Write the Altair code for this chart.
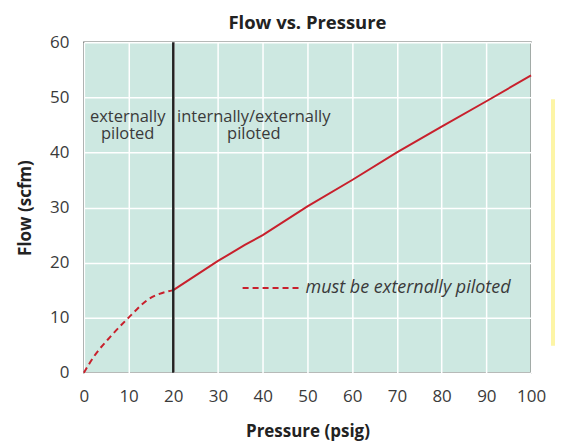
import altair as alt
import pandas as pd

# Data
dashed_x = [0, 2.3, 6, 10, 14.2, 20]
dashed_y = [0, 3, 6.6, 10, 13.2, 15]
solid_x = [20, 30, 36, 40, 50, 60, 70, 80, 90, 100]
solid_y = [15, 20.3, 23.2, 25, 30.2, 35, 40, 44.7, 49.3, 54]
divider_x = [20]
x_ticks = [0, 10, 20, 30, 40, 50, 60, 70, 80, 90, 100]
y_ticks = [0, 10, 20, 30, 40, 50, 60]
region_text = ["externally", "piloted", "internally/externally", "piloted"]
region_x = [9.8, 9.8, 38, 38]
region_y = [46.5, 43.3, 46.5, 43.3]
legend_seg_x = [35.5, 48.9]
legend_seg_y = [15.4, 15.4]
legend_text = ["must be externally piloted"]

FONT = "Open Sans"
RED = "#c8202c"
TXT = "#3a3a3a"

dashed_df = pd.DataFrame({"x": dashed_x, "y": dashed_y})
solid_df = pd.DataFrame({"x": solid_x, "y": solid_y})
div_df = pd.DataFrame({"x": divider_x})
reg_df = pd.DataFrame({"x": region_x, "y": region_y, "t": region_text})
seg_df = pd.DataFrame({"x": legend_seg_x, "y": legend_seg_y})
lt_df = pd.DataFrame({"x": [legend_seg_x[1]], "y": [legend_seg_y[0]], "t": legend_text})

xscale = alt.Scale(domain=[0, 100], nice=False, zero=False)
yscale = alt.Scale(domain=[0, 60], nice=False)

xaxis = alt.Axis(title="Pressure (psig)", values=x_ticks, tickSize=0, labelPadding=16, labelFlush=False,
                 titlePadding=19, grid=True, domain=False)
yaxis = alt.Axis(title="Flow (scfm)", values=y_ticks, tickSize=0, labelPadding=15, labelFlush=False,
                 titlePadding=15, grid=True, domain=False)

base_x = alt.X("x:Q", scale=xscale, axis=xaxis)
base_y = alt.Y("y:Q", scale=yscale, axis=yaxis)

dashed = alt.Chart(dashed_df).mark_line(color=RED, strokeWidth=2, strokeDash=[6, 4], interpolate="monotone").encode(
    x=base_x, y=base_y)
solid = alt.Chart(solid_df).mark_line(color=RED, strokeWidth=2).encode(
    x=alt.X("x:Q", scale=xscale), y=alt.Y("y:Q", scale=yscale))
divider = alt.Chart(div_df).mark_rule(color="#222222", strokeWidth=2.5).encode(
    x=alt.X("x:Q", scale=xscale))
regions = alt.Chart(reg_df).mark_text(font=FONT, fontSize=16.5, color=TXT, baseline="middle").encode(
    x=alt.X("x:Q", scale=xscale), y=alt.Y("y:Q", scale=yscale), text="t")
seg = alt.Chart(seg_df).mark_line(color=RED, strokeWidth=2, strokeDash=[6, 4]).encode(
    x=alt.X("x:Q", scale=xscale), y=alt.Y("y:Q", scale=yscale))
ltext = alt.Chart(lt_df).mark_text(font=FONT, fontSize=18, fontStyle="italic", color=TXT, align="left", dx=3).encode(
    x=alt.X("x:Q", scale=xscale), y=alt.Y("y:Q", scale=yscale), text="t")
yellow = alt.Chart(pd.DataFrame({"a": [0]})).mark_rect(color="#fdf5a6").encode(
    x=alt.value(468), x2=alt.value(472), y=alt.value(57), y2=alt.value(304))

chart = alt.layer(dashed, solid, divider, regions, seg, ltext, yellow).properties(
    width=448, height=331,
    title=alt.TitleParams("Flow vs. Pressure", font=FONT, fontSize=18.5, fontWeight="bold", color="#222222", offset=1),
    padding={"left": 8, "top": 5, "right": 0, "bottom": 2},
).configure_view(
    fill="#cde8e1", stroke="#6e7471", strokeWidth=1.5
).configure_axis(
    gridColor="#ffffff", gridWidth=1.5, labelFont=FONT, labelFontSize=17, labelColor=TXT,
    titleFont=FONT, titleFontSize=17, titleFontWeight="bold", titleColor="#222222"
)

chart.save("out.html", embed_options={"renderer": "svg", "actions": False})
